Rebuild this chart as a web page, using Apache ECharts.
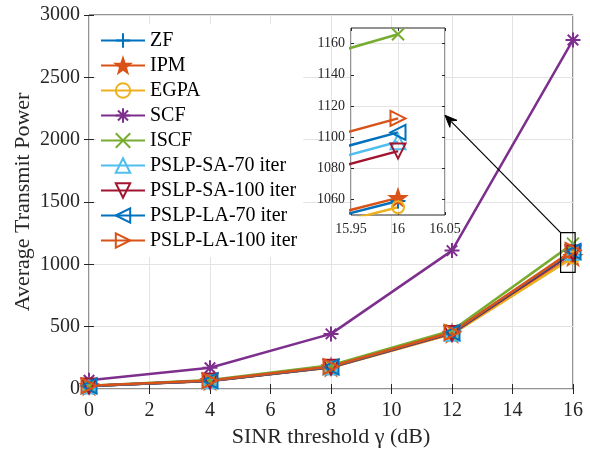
<!DOCTYPE html>
<html>
<head>
<meta charset="utf-8">
<script src="https://cdn.jsdelivr.net/npm/echarts@6/dist/echarts.min.js"></script>
<style>html,body{margin:0;padding:0;background:#fff}#c{width:590px;height:450px}</style>
</head>
<body>
<div id="c"></div>
<script>
// ---- data ----
const xValues = [0, 4, 8, 12, 16];
const seriesNames = ['ZF', 'IPM', 'EGPA', 'SCF', 'ISCF', 'PSLP-SA-70 iter', 'PSLP-SA-100 iter', 'PSLP-LA-70 iter', 'PSLP-LA-100 iter'];
const zfData    = [25, 66, 175, 445, 1059];
const ipmData   = [25, 66, 175, 445, 1061];
const egpaData  = [24, 64, 172, 440, 1055];
const scfData   = [70, 170, 442, 1110, 2800];
const iscfData  = [27, 72, 190, 470, 1166];
const sa70Data  = [25, 66, 176, 448, 1097];
const sa100Data = [24, 65, 174, 446, 1091];
const la70Data  = [25, 67, 177, 452, 1103];
const la100Data = [26, 68, 180, 455, 1112];
const insetXTicks = [15.95, 16, 16.05];
const insetYTicks = [1060, 1080, 1100, 1120, 1140, 1160];
const insetX = [15.95, 16.05];
const insetY = [1050, 1170];
const zoomBox = [[15.59, 1254], [16.07, 936]];
const arrowHead = [16.05, 1114];

// ---- styles ----
const colors = ['#0072BD', '#D95319', '#EDB120', '#7E2F8E', '#77AC30', '#4DBEEE', '#A2142F', '#0072BD', '#D95319'];
function starPath() {
  let p = '';
  for (let i = 0; i < 10; i++) {
    const r = i % 2 === 0 ? 10 : 4;
    const a = -Math.PI / 2 + i * Math.PI / 5;
    p += (i === 0 ? 'M' : 'L') + (10 + r * Math.cos(a)).toFixed(2) + ',' + (10 + r * Math.sin(a)).toFixed(2) + ' ';
  }
  return 'path://' + p + 'Z';
}
const symbols = [
  'path://M10,0 L10,20 M0,10 L20,10',
  starPath(),
  'circle',
  'path://M10,0 L10,20 M0,10 L20,10 M3,3 L17,17 M17,3 L3,17',
  'path://M0,0 L20,20 M20,0 L0,20',
  'path://M10,0 L20,17 L0,17 Z',
  'path://M0,0 L20,0 L10,17 Z',
  'path://M0,10 L17,0 L17,20 Z',
  'path://M0,0 L17,10 L0,20 Z'
];
const symSizes = [15, 16, 12, 15, 12, 15, 15, 15, 15];
const fills = ['none', '#D95319', 'none', 'none', 'none', 'none', 'none', 'none', 'none'];
const allData = [zfData, ipmData, egpaData, scfData, iscfData, sa70Data, sa100Data, la70Data, la100Data];

const FONT = 'Liberation Serif';
const AX = '#262626';
const GRIDC = '#e3e3e3';

const chart = echarts.init(document.getElementById('c'), null, {renderer: 'canvas'});

const series = [];
seriesNames.forEach((name, i) => {
  const pts = xValues.map((x, k) => [x, allData[i][k]]);
  const base = {
    name: name, type: 'line', data: pts,
    symbol: symbols[i], symbolSize: symSizes[i], showSymbol: true,
    lineStyle: {color: colors[i], width: 2.5},
    itemStyle: {color: fills[i] === 'none' ? 'rgba(0,0,0,0)' : fills[i], borderColor: colors[i], borderWidth: 2},
    emphasis: {disabled: true}, animation: false
  };
  series.push(Object.assign({}, base, {xAxisIndex: 0, yAxisIndex: 0, z: 3}));
  series.push(Object.assign({}, base, {xAxisIndex: 2, yAxisIndex: 2, z: 12, clip: true}));
});

const plain = v => String(Math.round(v * 100) / 100);
const tickLabelMain = {fontFamily: FONT, fontSize: 20, color: AX, formatter: plain};
const tickLabelInset = {fontFamily: FONT, fontSize: 14, color: AX, formatter: plain};

chart.setOption({
  animation: false,
  backgroundColor: '#fff',
  grid: [
    {left: 89, top: 15, width: 484, height: 374, show: true, borderColor: AX, borderWidth: 1, backgroundColor: '#fff', z: 0, outerBoundsMode: 'none', containLabel: false},
    {left: 351, top: 28, width: 94, height: 187, show: true, borderColor: AX, borderWidth: 1, backgroundColor: '#fff', z: 10, outerBoundsMode: 'none', containLabel: false}
  ],
  legend: {
    data: seriesNames,
    orient: 'vertical', left: 96, top: 24,
    itemWidth: 44, itemHeight: 18, itemGap: 0,
    padding: [4, 6, 4, 4],
    backgroundColor: '#fff',
    textStyle: {fontFamily: FONT, fontSize: 20, lineHeight: 25, color: '#000'},
    z: 6
  },
  xAxis: [
    {type: 'value', gridIndex: 0, min: 0, max: 16, interval: 2,
     name: 'SINR threshold γ (dB)', nameLocation: 'middle', nameGap: 37, nameMoveOverlap: false,
     nameTextStyle: {fontFamily: FONT, fontSize: 22, color: AX},
     axisLine: {show: false}, axisTick: {inside: true, length: 5, lineStyle: {color: AX}},
     axisLabel: Object.assign({margin: 12}, tickLabelMain),
     splitLine: {show: true, lineStyle: {color: GRIDC, width: 1}}},
    {type: 'value', gridIndex: 0, position: 'top', min: 0, max: 16, interval: 2,
     axisLine: {show: false}, axisTick: {inside: true, length: 5, lineStyle: {color: AX}},
     axisLabel: {show: false}, splitLine: {show: false}},
    {type: 'value', gridIndex: 1, min: insetX[0], max: insetX[1], interval: 0.05, z: 10,
     axisLine: {show: false}, axisTick: {inside: true, length: 3, lineStyle: {color: AX}},
     axisLabel: Object.assign({margin: 7, customValues: insetXTicks}, tickLabelInset),
     splitLine: {show: true, lineStyle: {color: GRIDC, width: 1}}},
    {type: 'value', gridIndex: 1, position: 'top', min: insetX[0], max: insetX[1], interval: 0.05, z: 10,
     axisLine: {show: false}, axisTick: {inside: true, length: 3, lineStyle: {color: AX}},
     axisLabel: {show: false}, splitLine: {show: false}}
  ],
  yAxis: [
    {type: 'value', gridIndex: 0, min: 0, max: 3000, interval: 500,
     name: 'Average Transmit Power', nameLocation: 'middle', nameGap: 55, nameMoveOverlap: false,
     nameTextStyle: {fontFamily: FONT, fontSize: 22, color: AX},
     axisLine: {show: false}, axisTick: {inside: true, length: 5, lineStyle: {color: AX}},
     axisLabel: Object.assign({margin: 9}, tickLabelMain),
     splitLine: {show: true, lineStyle: {color: GRIDC, width: 1}}},
    {type: 'value', gridIndex: 0, position: 'right', min: 0, max: 3000, interval: 500,
     axisLine: {show: false}, axisTick: {inside: true, length: 5, lineStyle: {color: AX}},
     axisLabel: {show: false}, splitLine: {show: false}},
    {type: 'value', gridIndex: 1, min: insetY[0], max: insetY[1], interval: 10, z: 10,
     axisLine: {show: false}, axisTick: {inside: true, length: 3, customValues: insetYTicks, lineStyle: {color: AX}},
     axisLabel: Object.assign({margin: 6, customValues: insetYTicks}, tickLabelInset),
     splitLine: {show: true, lineStyle: {color: ['rgba(0,0,0,0)', GRIDC], width: 1}}},
    {type: 'value', gridIndex: 1, position: 'right', min: insetY[0], max: insetY[1], interval: 10, z: 10,
     axisLine: {show: false}, axisTick: {inside: true, length: 3, customValues: insetYTicks, lineStyle: {color: AX}},
     axisLabel: {show: false}, splitLine: {show: false}}
  ],
  series: series
});

// annotation: zoom box + arrow
const p1 = chart.convertToPixel({xAxisIndex: 0, yAxisIndex: 0}, zoomBox[0]);
const p2 = chart.convertToPixel({xAxisIndex: 0, yAxisIndex: 0}, zoomBox[1]);
const head = chart.convertToPixel({xAxisIndex: 2, yAxisIndex: 2}, arrowHead);
const tail = [p1[0], p1[1]];
const ang = Math.atan2(head[1] - tail[1], head[0] - tail[0]);
const L = 12, W = 5;
const bx = head[0] - L * Math.cos(ang), by = head[1] - L * Math.sin(ang);
const nx = -Math.sin(ang), ny = Math.cos(ang);
chart.setOption({
  graphic: [
    {type: 'rect', z: 20, shape: {x: p1[0], y: p1[1], width: p2[0] - p1[0], height: p2[1] - p1[1]},
     style: {fill: 'none', stroke: '#000', lineWidth: 1.2}},
    {type: 'line', z: 20, shape: {x1: tail[0], y1: tail[1], x2: bx + 3 * Math.cos(ang), y2: by + 3 * Math.sin(ang)},
     style: {stroke: '#000', lineWidth: 1.2}},
    {type: 'polygon', z: 20, shape: {points: [head, [bx + nx * W, by + ny * W], [head[0] - 8 * Math.cos(ang), head[1] - 8 * Math.sin(ang)], [bx - nx * W, by - ny * W]]},
     style: {fill: '#000', stroke: '#000', lineWidth: 1}}
  ]
});
</script>
</body>
</html>
